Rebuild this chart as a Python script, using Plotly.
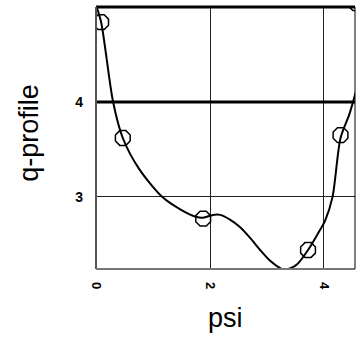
import plotly.graph_objects as go

# curve
curve_psi = [0.0, 0.09, 0.3, 0.47, 0.75, 1.16, 1.5, 1.75, 1.88, 2.05, 2.18, 2.35, 2.53, 2.7, 2.88, 3.05, 3.23, 3.3, 3.4, 3.53, 3.72, 3.9, 4.02, 4.15, 4.29, 4.45, 4.6]
curve_q = [5.02, 4.84, 4.0, 3.62, 3.3, 3.0, 2.86, 2.79, 2.78, 2.81, 2.81, 2.76, 2.68, 2.57, 2.44, 2.33, 2.25, 2.235, 2.245, 2.29, 2.44, 2.62, 2.75, 3.0, 3.62, 3.88, 4.2]

# marker points
mark_psi = [0.09, 0.47, 1.88, 3.72, 4.29, 4.56]
mark_q = [4.84, 3.62, 2.77, 2.44, 3.65, 5.04]

x_ticks = [0, 2, 4]
y_ticks = [3, 4]

fig = go.Figure()
fig.add_trace(go.Scatter(x=curve_psi, y=curve_q, mode="lines",
                         line=dict(color="black", width=2, shape="spline", smoothing=0.8),
                         showlegend=False, hoverinfo="skip"))
fig.add_trace(go.Scatter(x=mark_psi, y=mark_q, mode="markers",
                         marker=dict(symbol="octagon-open", size=16, color="black",
                                     line=dict(width=1.5, color="black")),
                         showlegend=False))

fig.update_layout(
    width=356, height=349,
    margin=dict(l=96, r=1, t=7, b=80),
    paper_bgcolor="white", plot_bgcolor="white",
    xaxis=dict(range=[0, 4.544], tickvals=x_ticks, ticktext=[str(v) for v in x_ticks],
               tickangle=90, showgrid=True, gridcolor="#222", gridwidth=1,
               zeroline=False, showline=False, ticks="", ticklabelstandoff=12,
               tickfont=dict(family="Liberation Sans", size=13, color="black", weight="bold")),
    yaxis=dict(range=[2.24, 5.0], tickvals=y_ticks, ticktext=[str(v) for v in y_ticks],
               showgrid=True, gridcolor="#222", gridwidth=1,
               zeroline=False, showline=False, ticks="", ticklabelstandoff=12,
               tickfont=dict(family="Liberation Sans", size=14, color="black", weight="bold")),
    font=dict(family="Liberation Sans", color="black"),
    annotations=[
        dict(text="q-profile", xref="paper", yref="paper", x=0, y=0.52,
             xanchor="center", yanchor="middle", xshift=-67, textangle=-90,
             showarrow=False, font=dict(size=27, family="Liberation Sans", color="black")),
        dict(text="psi", xref="paper", yref="paper", x=0.5, y=0,
             xanchor="center", yanchor="middle", yshift=-49,
             showarrow=False, font=dict(size=27, family="Liberation Sans", color="black")),
    ],
    shapes=[
        dict(type="line", xref="x domain", yref="y", x0=0, x1=1, y0=4, y1=4,
             line=dict(color="black", width=3)),
        dict(type="line", xref="x domain", yref="y domain", x0=0, x1=1, y0=1, y1=1,
             line=dict(color="black", width=3)),
        dict(type="line", xref="x domain", yref="y domain", x0=0, x1=0, y0=0, y1=1,
             line=dict(color="#555", width=2)),
        dict(type="line", xref="x domain", yref="y domain", x0=0, x1=1, y0=0, y1=0,
             line=dict(color="#777", width=2)),
        dict(type="line", xref="x domain", yref="y domain", x0=1, x1=1, y0=0, y1=1,
             line=dict(color="black", width=1)),
    ],
)

fig.write_html("out.html")
